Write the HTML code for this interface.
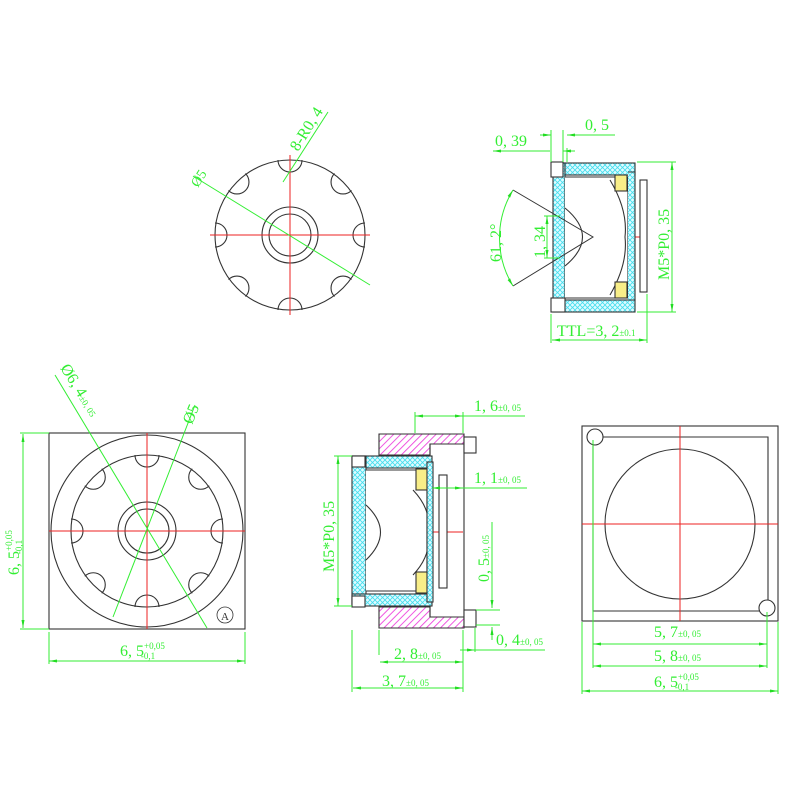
<!DOCTYPE html>
<html><head><meta charset="utf-8"><style>html,body{margin:0;padding:0;background:#fff}svg{display:block}text{font-family:"Liberation Serif",serif;fill:#33ee33}</style></head><body>
<svg width="800" height="800" viewBox="0 0 800 800" xmlns="http://www.w3.org/2000/svg">
<defs>
<pattern id="cy" width="5" height="5" patternUnits="userSpaceOnUse"><rect width="5" height="5" fill="#e0fbff"/><path d="M0 0L5 5M5 0L0 5" stroke="#44ddee" stroke-width="0.8"/></pattern>
<pattern id="mg" width="5" height="5" patternUnits="userSpaceOnUse" patternTransform="rotate(45)"><rect width="5" height="5" fill="#fff"/><line x1="0" y1="0" x2="0" y2="5" stroke="#ee44dd" stroke-width="1.8"/></pattern>
<marker id="ar" markerWidth="8" markerHeight="6" refX="8" refY="3" orient="auto-start-reverse" markerUnits="userSpaceOnUse"><path d="M0 1.5L8 3L0 4.5Z" fill="#22dd22"/></marker>
</defs>
<g fill="none" stroke="#333" stroke-width="1.1">
<circle cx="290" cy="235" r="75"/>
<circle cx="290" cy="235" r="28"/>
<circle cx="290" cy="235" r="21"/>
<g id="n1"><path d="M278 160 A12 12 0 0 0 302 160"/></g>
<use href="#n1" transform="rotate(45 290 235)"/><use href="#n1" transform="rotate(90 290 235)"/><use href="#n1" transform="rotate(135 290 235)"/><use href="#n1" transform="rotate(180 290 235)"/><use href="#n1" transform="rotate(225 290 235)"/><use href="#n1" transform="rotate(270 290 235)"/><use href="#n1" transform="rotate(315 290 235)"/>
<rect x="49" y="433" width="196" height="196"/>
<circle cx="147" cy="531" r="96"/>
<circle cx="147" cy="531" r="76"/>
<circle cx="147" cy="531" r="29"/>
<circle cx="147" cy="531" r="22"/>
<g id="n2"><path d="M135 455 A12 12 0 0 0 159 455"/></g>
<use href="#n2" transform="rotate(45 147 531)"/><use href="#n2" transform="rotate(90 147 531)"/><use href="#n2" transform="rotate(135 147 531)"/><use href="#n2" transform="rotate(180 147 531)"/><use href="#n2" transform="rotate(225 147 531)"/><use href="#n2" transform="rotate(270 147 531)"/><use href="#n2" transform="rotate(315 147 531)"/>
<circle cx="225" cy="615" r="8" stroke-width="0.8"/>
<rect x="582" y="426" width="196" height="195"/>
<path d="M595 437H768V608M593 437V611H766"/>
<circle cx="680" cy="524" r="75"/>
<circle cx="595" cy="437" r="8" fill="#fff"/>
<circle cx="767" cy="608" r="8" fill="#fff"/>
</g>
<text x="225" y="620" font-size="11" text-anchor="middle" style="fill:#333">A</text>
<g stroke="#ee2222" stroke-width="1">
<path d="M290 155V315M210 235H370"/>
<path d="M147 433V629M49 531H245"/>
<path d="M680 426V621M582 524H778"/>
<path d="M552 237H647"/>
<path d="M352 532H463"/>
</g>
<g stroke="#333" stroke-width="1.1">
<rect x="553" y="163" width="82" height="12" fill="url(#cy)"/>
<rect x="553" y="163" width="12" height="137" fill="url(#cy)"/>
<rect x="553" y="300" width="82" height="12" fill="url(#cy)"/>
<rect x="551" y="162" width="12" height="15" fill="#fff"/>
<rect x="551" y="298" width="14" height="14" fill="#fff"/>
<path d="M565 177H628V298H565" fill="#fff"/>
<path d="M628 172H635V300H628" fill="url(#cy)"/>
<path d="M565 208Q600 237 565 266" fill="#fff"/>
<path d="M610 180 Q628 210 625 237 Q628 264 610 295" fill="none"/>
<rect x="615" y="175" width="12" height="16" fill="#f8ee88"/>
<rect x="615" y="282" width="12" height="16" fill="#f8ee88"/>
<rect x="640" y="180" width="7" height="112" fill="#fff"/>
</g>
<path d="M513 190L593 237L513 286" stroke="#333" fill="none" stroke-width="1"/>
<g stroke="#333" stroke-width="1.1">
<path d="M379 434H464V444H430V455H379Z" fill="url(#mg)"/>
<path d="M379 607H430V617H464V628H379Z" fill="url(#mg)"/>
<path d="M430 444V617M464 444V617" fill="none"/>
<rect x="464" y="437" width="12" height="16" fill="#fff"/>
<rect x="464" y="610" width="12" height="17" fill="#fff"/>
<rect x="352" y="456" width="80" height="12" fill="url(#cy)"/>
<rect x="352" y="456" width="14" height="150" fill="url(#cy)"/>
<rect x="352" y="594" width="80" height="12" fill="url(#cy)"/>
<rect x="352" y="456" width="13" height="11" fill="#fff"/>
<rect x="352" y="596" width="13" height="11" fill="#fff"/>
<path d="M366 470H427V591H366" fill="#fff"/>
<path d="M366 505Q395 532 366 560" fill="#fff"/>
<path d="M413 490 Q432 510 428 532 Q432 555 413 575" fill="none"/>
<rect x="416" y="469" width="12" height="21" fill="#f8ee88"/>
<rect x="416" y="572" width="12" height="21" fill="#f8ee88"/>
<rect x="427" y="462" width="6" height="140" fill="url(#cy)"/>
<rect x="439" y="475" width="8" height="113" fill="#fff"/>
</g>
<g stroke="#33ee33" stroke-width="1" fill="none">
<path d="M328 112L283 182"/>
<path d="M193 176L370 285"/>
<path d="M551 130V162M563 130V162M567 148V162"/>
<path d="M550 151H493" marker-end="url(#ar)"/><path d="M563 151H575" marker-start="url(#ar)"/>
<path d="M540 135H551" marker-end="url(#ar)"/><path d="M567 135H615" marker-start="url(#ar)"/>
<path d="M547 216V258" marker-start="url(#ar)" marker-end="url(#ar)"/>
<path d="M544 216H560M544 258H560"/>
<path d="M513 190A92 92 0 0 0 513 286" marker-start="url(#ar)" marker-end="url(#ar)"/>
<path d="M637 162H676M637 312H676"/>
<path d="M672 162V312" marker-start="url(#ar)" marker-end="url(#ar)"/>
<path d="M551 314V343M647 294V343"/>
<path d="M552 340H647" marker-start="url(#ar)" marker-end="url(#ar)"/>
<path d="M55 375L207 628"/>
<path d="M195 405L113 617"/>
<path d="M20 433H49M20 629H49"/>
<path d="M23 434V628" marker-start="url(#ar)" marker-end="url(#ar)"/>
<path d="M49 632V664M245 632V664"/>
<path d="M49 661H245" marker-start="url(#ar)" marker-end="url(#ar)"/>
<path d="M415 412V433M463 412V433"/>
<path d="M415 416H463" marker-start="url(#ar)" marker-end="url(#ar)"/>
<path d="M463 416H525"/>
<path d="M432 488H463" marker-start="url(#ar)" marker-end="url(#ar)"/><path d="M463 488H527"/>
<path d="M338 456V606" marker-start="url(#ar)" marker-end="url(#ar)"/>
<path d="M334 456H352M334 606H352"/>
<path d="M492 522V608" marker-end="url(#ar)"/>
<path d="M476 610H500M476 625H500"/>
<path d="M492 640V627" marker-end="url(#ar)"/>
<path d="M475 628V652"/>
<path d="M460 650H475" marker-end="url(#ar)"/><path d="M475 650H545"/>
<path d="M379 630V655M463 630V692M352 630V692"/>
<path d="M380 662H463" marker-start="url(#ar)" marker-end="url(#ar)"/>
<path d="M353 688H463" marker-start="url(#ar)" marker-end="url(#ar)"/>
<path d="M593 440V668M767 612V668M582 622V694M778 622V694"/>
<path d="M593 644H767" marker-start="url(#ar)" marker-end="url(#ar)"/>
<path d="M593 666H767" marker-start="url(#ar)" marker-end="url(#ar)"/>
<path d="M582 691H778" marker-start="url(#ar)" marker-end="url(#ar)"/>
</g>
<g font-size="16">
<text transform="translate(298,152) rotate(-58)">8-R0, 4</text>
<text transform="translate(198,188) rotate(-58)" font-size="14">Ø5</text>
<text x="495" y="146">0, 39</text>
<text x="585" y="130">0, 5</text>
<text transform="translate(501,262) rotate(-90)">61, 2°</text>
<text transform="translate(545,258) rotate(-90)">1, 34</text>
<text transform="translate(669,280) rotate(-90)">M5*P0, 35</text>
<text x="557" y="336">TTL=3, 2<tspan font-size="9">±0.1</tspan></text>
<text transform="translate(60,368) rotate(58)">Ø6, 4<tspan font-size="9">±0, 05</tspan></text>
<text transform="translate(192,425) rotate(-68)">Ø5</text>
<text transform="translate(19,575) rotate(-90)">6, 5<tspan font-size="9" dy="-7">+0,05</tspan><tspan font-size="9" dx="-24" dy="10">-0,1</tspan></text>
<text x="120" y="656">6, 5<tspan font-size="9" dy="-7">+0,05</tspan><tspan font-size="9" dx="-24" dy="10">-0,1</tspan></text>
<text x="474" y="411">1, 6<tspan font-size="9">±0, 05</tspan></text>
<text x="474" y="483">1, 1<tspan font-size="9">±0, 05</tspan></text>
<text transform="translate(334,572) rotate(-90)">M5*P0, 35</text>
<text transform="translate(489,582) rotate(-90)">0, 5<tspan font-size="9">±0, 05</tspan></text>
<text x="496" y="645">0, 4<tspan font-size="9">±0, 05</tspan></text>
<text x="394" y="659">2, 8<tspan font-size="9">±0, 05</tspan></text>
<text x="382" y="686">3, 7<tspan font-size="9">±0, 05</tspan></text>
<text x="654" y="637">5, 7<tspan font-size="9">±0, 05</tspan></text>
<text x="654" y="661">5, 8<tspan font-size="9">±0, 05</tspan></text>
<text x="654" y="687">6, 5<tspan font-size="9" dy="-7">+0,05</tspan><tspan font-size="9" dx="-24" dy="10">-0,1</tspan></text>
</g>
</svg>
</body></html>
